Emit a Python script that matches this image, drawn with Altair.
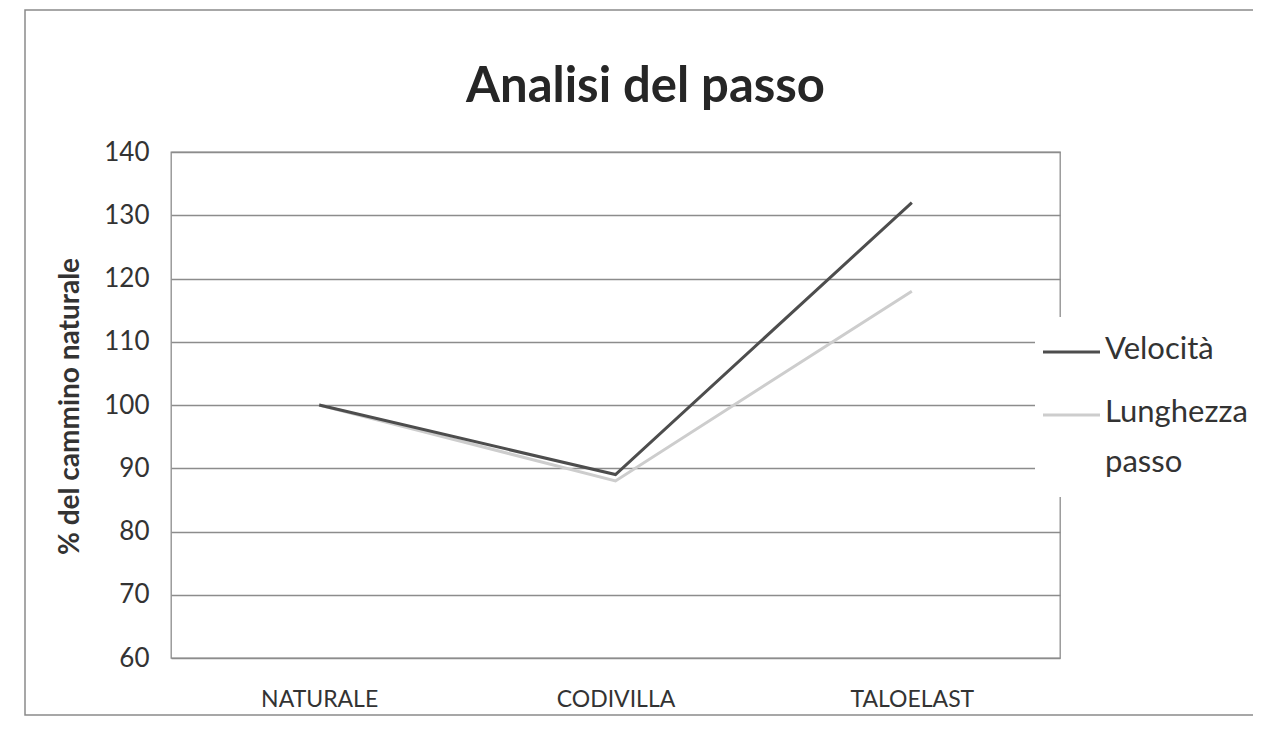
import altair as alt
import pandas as pd

categories = ["NATURALE", "CODIVILLA", "TALOELAST"]
series_names = ["Velocità", "Lunghezza passo"]
velocita = [100, 89, 132]
lunghezza = [100, 88, 118]
y_ticks = [60, 70, 80, 90, 100, 110, 120, 130, 140]

rows = []
for c, v in zip(categories, velocita):
    rows.append({"cat": c, "serie": series_names[0], "val": v})
for c, v in zip(categories, lunghezza):
    rows.append({"cat": c, "serie": series_names[1], "val": v})
df = pd.DataFrame(rows)
legend_df = pd.DataFrame({"serie": series_names})

FONT = "Lato"

x_enc = alt.X(
    "cat:N",
    sort=categories,
    scale=alt.Scale(type="point", padding=0.5),
    axis=alt.Axis(
        title=None, labelAngle=0, labelFontSize=23, labelColor="#333333",
        labelPadding=30, ticks=False, domain=False, grid=False, labelFont=FONT,
    ),
)
y_enc = alt.Y(
    "val:Q",
    scale=alt.Scale(domain=[60, 140], nice=False, zero=False),
    axis=alt.Axis(
        values=y_ticks, title="% del cammino naturale", titleFontSize=28,
        titleFontWeight="bold", titleColor="#333333", titleFont=FONT,
        titleAngle=-90, titleX=-101, titleY=254, titleAlign="center",
        titleBaseline="middle",
        labelFontSize=26, labelColor="#333333", labelFont=FONT, labelPadding=22,
        ticks=False, domain=False, grid=True, gridColor="#8c8c8c", gridWidth=1.3,
    ),
)
color_scale = alt.Scale(domain=series_names, range=["#4d4d4d", "#cdcdcd"])
color_enc = alt.Color("serie:N", scale=color_scale, legend=None)

line_l = alt.Chart(df).transform_filter(alt.datum.serie == series_names[1]).mark_line(strokeWidth=3).encode(
    x=x_enc, y=y_enc, color=color_enc
)
line_v = alt.Chart(df).transform_filter(alt.datum.serie == series_names[0]).mark_line(strokeWidth=3).encode(
    x=x_enc, y=y_enc, color=color_enc
)

frame = alt.Chart(alt.Data(values=[{"f": 1}])).mark_rect(
    fill=None, stroke="#8a8a8a", strokeWidth=1.5
).encode(
    x=alt.value(-146), x2=alt.value(1087), y=alt.value(-142), y2=alt.value(563)
)

# legend (Excel-style, box covering gridlines at the right)
legend_box = alt.Chart(alt.Data(values=[{"f": 1}])).mark_rect(
    fill="white", stroke=None
).encode(
    x=alt.value(864), x2=alt.value(1100), y=alt.value(165), y2=alt.value(345)
)
leg_y = alt.Y("serie:N", scale=alt.Scale(type="point", domain=series_names, range=[200, 263], padding=0), axis=None)
legend_rules = alt.Chart(legend_df).mark_rule(strokeWidth=3).encode(
    x=alt.value(872), x2=alt.value(929), y=leg_y, color=color_enc
)
legend_text = alt.Chart(legend_df).mark_text(
    align="left", baseline="top", dy=-17, lineBreak=" ", lineHeight=50,
    fontSize=31, font=FONT, color="#333333",
).encode(
    x=alt.value(934), y=leg_y, text="serie:N"
)

main = alt.layer(frame, line_l, line_v)
leg = alt.layer(legend_box, legend_rules, legend_text)

chart = alt.layer(main, leg).resolve_scale(y="independent").properties(
    width=889, height=506,
    title=alt.TitleParams(
        "Analisi del passo", fontSize=49, font=FONT, fontWeight="bold",
        color="#262626", anchor="middle", dx=30, offset=-142, frame="group",
        baseline="alphabetic",
    ),
    autosize=alt.AutoSizeParams(type="none"),
    padding={"left": 163, "top": 144, "right": 193, "bottom": 60},
    background="white",
).configure_view(stroke="#8c8c8c", strokeWidth=1.3)

chart.save("out.html", embed_options={"renderer": "svg", "actions": False})
